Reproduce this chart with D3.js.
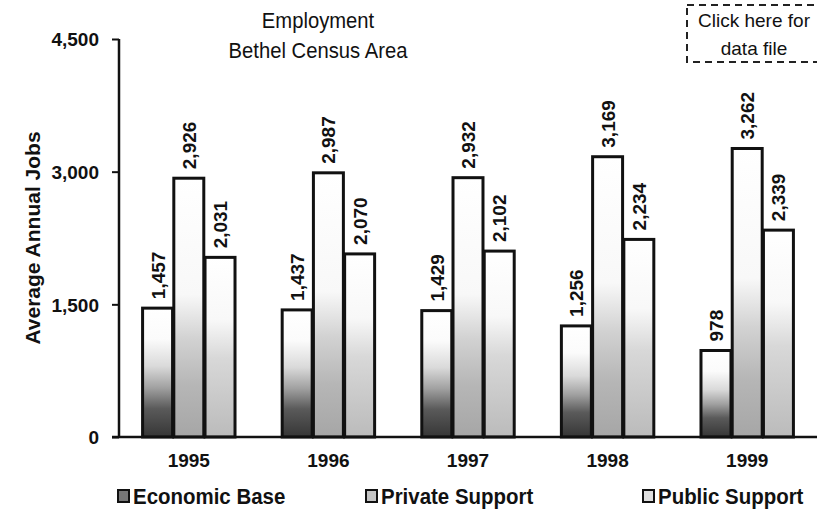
<!DOCTYPE html>
<html>
<head>
<meta charset="utf-8">
<script src="https://cdn.jsdelivr.net/npm/d3@7/dist/d3.min.js"></script>
<style>
  html, body { margin: 0; padding: 0; background: #fff; }
  svg { display: block; }
  text { fill: #111; font-family: 'Liberation Sans', Arial, sans-serif; }
</style>
</head>
<body>
<svg id="chart" width="817" height="511"></svg>
<script>
// Average annual jobs by sector, Bethel Census Area
const years = ["1995", "1996", "1997", "1998", "1999"];
const seriesNames = ["Economic Base", "Private Support", "Public Support"];
const economicBase = [1457, 1437, 1429, 1256, 978];
const privateSupport = [2926, 2987, 2932, 3169, 3262];
const publicSupport = [2031, 2070, 2102, 2234, 2339];
const yTicks = [0, 1500, 3000, 4500];

const seriesValues = [economicBase, privateSupport, publicSupport];

const svg = d3.select("#chart");
const W = 817, H = 511;
const margin = { left: 119, top: 39, bottom: 74 };

const x = d3.scaleBand().domain(years).range([margin.left, W]).paddingInner(0.32).paddingOuter(0.16);
const xs = d3.scaleBand().domain(seriesNames).range([0, x.bandwidth()]).padding(0.04);
const y = d3.scaleLinear().domain([0, 4500]).range([H - margin.bottom, margin.top]);
const fmt = d3.format(",");

// Vertical shading for each series: white at the top, greying toward the baseline
const defs = svg.append("defs");
const ramps = [
  [[0, "#ffffff"], [0.24, "#fbfbfb"], [0.45, "#dadada"], [0.62, "#a0a0a0"], [0.78, "#5a5a5a"], [1, "#363636"]],
  [[0, "#ffffff"], [0.45, "#f8f8f8"], [0.62, "#d2d2d2"], [0.8, "#b6b6b6"], [1, "#a6a6a6"]],
  [[0, "#ffffff"], [0.35, "#f8f8f8"], [0.56, "#d8d8d8"], [1, "#bbbbbb"]]
];
ramps.forEach((stops, i) => {
  const g = defs.append("linearGradient").attr("id", "shade" + i)
    .attr("x1", 0).attr("x2", 0).attr("y1", 0).attr("y2", 1);
  stops.forEach(([o, c]) => g.append("stop").attr("offset", o).attr("stop-color", c));
});

// Title
svg.append("text").attr("transform", "translate(318,28) scale(0.92,1)").attr("text-anchor", "middle")
  .style("font-size", "22px").text("Employment");
svg.append("text").attr("transform", "translate(318,58) scale(0.92,1)").attr("text-anchor", "middle")
  .style("font-size", "22px").text("Bethel Census Area");

// Data-file link box
svg.append("rect").attr("x", 687).attr("y", 5).attr("width", 140).attr("height", 57)
  .attr("fill", "none").attr("stroke", "#222").attr("stroke-width", 2)
  .attr("stroke-dasharray", "7,5");
svg.append("text").attr("x", 754).attr("y", 27).attr("text-anchor", "middle")
  .style("font-size", "19px").text("Click here for");
svg.append("text").attr("x", 754).attr("y", 55).attr("text-anchor", "middle")
  .style("font-size", "19px").text("data file");

// Y axis
const yAxis = svg.append("g").attr("transform", `translate(${margin.left},0)`)
  .call(d3.axisLeft(y).tickValues(yTicks).tickFormat(fmt).tickSize(7).tickPadding(13));
yAxis.select(".domain").attr("stroke", "#111").attr("stroke-width", 2.5)
  .attr("d", `M0,${y(4500)}V${y(0)}`);
yAxis.selectAll(".tick line").attr("stroke", "#111").attr("stroke-width", 2);
yAxis.selectAll(".tick text").style("font-size", "19px").style("font-weight", "bold")
  .attr("fill", "#111").attr("dy", "0.36em");

svg.append("text").attr("transform", `translate(40,${(y(0) + y(4500)) / 2}) rotate(-90)`)
  .attr("text-anchor", "middle").style("font-size", "21px").style("font-weight", "bold")
  .text("Average Annual Jobs");

// Bars with rotated value labels
const groups = svg.append("g").selectAll("g").data(years).join("g")
  .attr("transform", d => `translate(${x(d)},0)`);

groups.each(function (yr, yi) {
  const g = d3.select(this);
  seriesNames.forEach((s, si) => {
    const v = seriesValues[si][yi];
    g.append("rect")
      .attr("x", xs(s)).attr("y", y(v))
      .attr("width", xs.bandwidth()).attr("height", y(0) - y(v))
      .attr("fill", `url(#shade${si})`)
      .attr("stroke", "#111").attr("stroke-width", 3);
    const cx = xs(s) + xs.bandwidth() / 2;
    g.append("text")
      .attr("transform", `translate(${cx + 7},${y(v) - 9}) rotate(-90)`)
      .style("font-size", "19px").style("font-weight", "bold")
      .text(fmt(v));
  });
});

// X axis baseline and year labels
svg.append("line").attr("x1", 112).attr("x2", W).attr("y1", y(0)).attr("y2", y(0))
  .attr("stroke", "#111").attr("stroke-width", 2.5);
const xAxis = svg.append("g").attr("transform", `translate(0,${y(0)})`)
  .call(d3.axisBottom(x).tickSize(0).tickPadding(26));
xAxis.select(".domain").remove();
xAxis.selectAll(".tick text").style("font-size", "19px").style("font-weight", "bold")
  .attr("fill", "#111").attr("dy", "0.2em");

// Legend
const legendX = [118, 366, 643];
const legend = svg.append("g").selectAll("g").data(seriesNames).join("g")
  .attr("transform", (d, i) => `translate(${legendX[i]},490)`);
legend.append("rect").attr("x", 0).attr("y", 0).attr("width", 11).attr("height", 12)
  .attr("fill", (d, i) => ["#777", "#c4c4c4", "#dedede"][i])
  .attr("stroke", "#111").attr("stroke-width", 2);
legend.append("text").attr("transform", "translate(15,14) scale(0.93,1)")
  .style("font-size", "22px").style("font-weight", "bold")
  .text(d => d);
</script>
</body>
</html>
